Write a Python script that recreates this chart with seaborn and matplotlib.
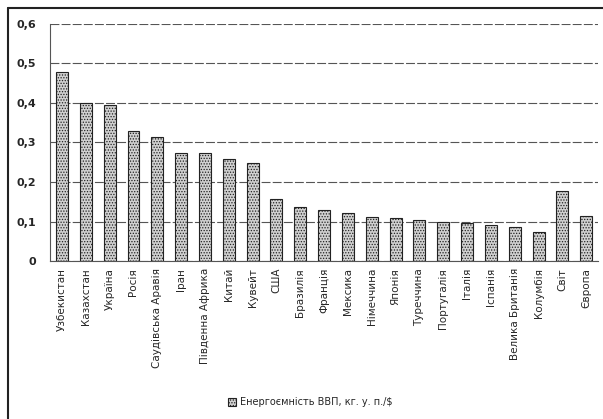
import matplotlib
matplotlib.use("Agg")
import pandas as pd
import seaborn as sns
import matplotlib.pyplot as plt
from matplotlib.patches import Rectangle
from matplotlib.ticker import FuncFormatter

# data
countries = ["Узбекистан", "Казахстан", "Україна", "Росія", "Саудівська Аравія",
             "Іран", "Південна Африка", "Китай", "Кувейт", "США", "Бразилія",
             "Франція", "Мексика", "Німеччина", "Японія", "Туреччина",
             "Португалія", "Італія", "Іспанія", "Велика Британія", "Колумбія",
             "Світ", "Європа"]
intensity = [0.478, 0.400, 0.395, 0.330, 0.315, 0.273, 0.273, 0.259, 0.247,
             0.156, 0.136, 0.128, 0.121, 0.111, 0.108, 0.104, 0.100, 0.097,
             0.090, 0.086, 0.073, 0.176, 0.115]
series_name = "Енергоємність ВВП, кг. у. п./$"

df = pd.DataFrame({"country": countries, "value": intensity})

sns.set_style("white")
plt.rcParams["font.family"] = ["DejaVu Sans"]
plt.rcParams["hatch.color"] = "#555555"
plt.rcParams["hatch.linewidth"] = 0.6

fig = plt.figure(figsize=(6.03, 4.19), dpi=100)
ax = fig.add_axes([0.083, 0.377, 0.909, 0.566])

sns.barplot(data=df, x="country", y="value", color="#d0d0d0", width=0.5,
            edgecolor="#222222", linewidth=0.8, ax=ax)
for p in ax.patches:
    p.set_hatch("......")

ax.set_ylim(0, 0.6)
ax.set_yticks([0, 0.1, 0.2, 0.3, 0.4, 0.5, 0.6])
ax.yaxis.set_major_formatter(FuncFormatter(lambda v, _: "0" if v == 0 else f"{v:.1f}".replace(".", ",")))
ax.grid(axis="y", color="#555555", linewidth=0.8, linestyle=(0, (8, 2)))
ax.set_axisbelow(True)
ax.set_xlabel("")
ax.set_ylabel("")
ax.tick_params(axis="x", rotation=90, labelsize=7.5, length=0, pad=5)
ax.tick_params(axis="y", labelsize=8, length=0, pad=10)
for lbl in ax.get_yticklabels():
    lbl.set_fontweight("bold")

for side in ["top", "right"]:
    ax.spines[side].set_visible(False)
ax.spines["left"].set_color("#555555")
ax.spines["bottom"].set_color("#555555")
ax.spines["left"].set_linewidth(0.8)
ax.spines["bottom"].set_linewidth(0.8)

# legend below the plot
handle = Rectangle((0, 0), 1, 1, facecolor="#d0d0d0", edgecolor="#222222",
                   hatch="......", linewidth=0.8)
fig.legend([handle], [series_name], loc="center", bbox_to_anchor=(0.515, 0.04),
           frameon=False, fontsize=7, handlelength=0.8, handleheight=0.8,
           handletextpad=0.4)

# outer chart frame
fig.add_artist(plt.Line2D([0.013, 0.013], [0.0, 0.981], color="#222222", linewidth=1.5))
fig.add_artist(plt.Line2D([0.013, 1.0], [0.981, 0.981], color="#222222", linewidth=1.5))

fig.savefig("out.png", dpi=100)
